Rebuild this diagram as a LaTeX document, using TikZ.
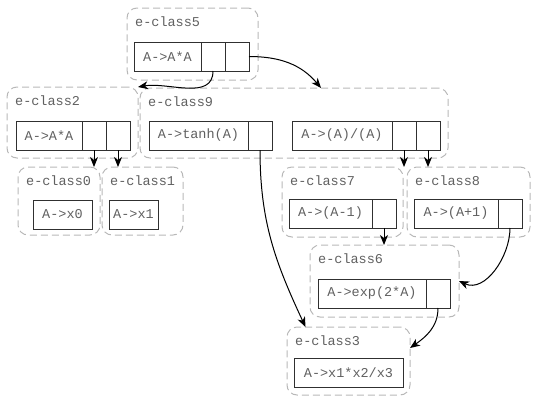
\documentclass[tikz,border=0pt]{standalone}
\usepackage{fontspec}
\setmonofont{Liberation Mono}
\usetikzlibrary{arrows.meta, positioning}
\definecolor{txtgray}{HTML}{606060}
\definecolor{clgray}{HTML}{B8B8B8}
\definecolor{recline}{HTML}{303030}
\tikzset{
  eclass/.style={draw=clgray, line width=1pt, dash pattern=on 7pt off 4pt, rounded corners=10pt, anchor=north west, outer sep=0pt},
  lbl/.style={anchor=west, inner sep=0pt, text=txtgray, font=\ttfamily\fontsize{13.5}{16}\selectfont},
  rec/.style={draw=recline, line width=1pt, anchor=north west, minimum height=29pt, inner sep=0pt, outer sep=0pt, text=txtgray, font=\ttfamily\fontsize{13.5}{16}\selectfont},
  cell/.style={draw=recline, line width=1pt, minimum width=24pt, minimum height=29pt, inner sep=0pt, outer sep=0pt},
  link/.style={->, draw=black, line width=1pt}
}

\begin{document}
\begin{tikzpicture}[x=1pt, y=-1pt, >={Stealth[length=10pt, width=8pt, inset=3pt]}]
    \useasboundingbox (0,0) rectangle (538,405);
    % e-classes
    \node [eclass, minimum width=131pt, minimum height=72pt] (c5) at (127,8) {};
    \node [eclass, minimum width=131pt, minimum height=71pt] (c2) at (7,87) {};
    \node [eclass, minimum width=308pt, minimum height=70pt] (c9) at (140,88) {};
    \node [eclass, minimum width=82pt, minimum height=68pt] (c0) at (18,167) {};
    \node [eclass, minimum width=81pt, minimum height=68pt] (c1) at (102,167) {};
    \node [eclass, minimum width=121pt, minimum height=70pt] (c7) at (282,167) {};
    \node [eclass, minimum width=123pt, minimum height=70pt] (c8) at (407,167) {};
    \node [eclass, minimum width=149pt, minimum height=72pt] (c6) at (310,245) {};
    \node [eclass, minimum width=123pt, minimum height=68pt] (c3) at (287,327) {};
    \foreach \c/\t in {c5/e-class5, c2/e-class2, c9/e-class9, c0/e-class0, c1/e-class1,
                       c7/e-class7, c8/e-class8, c6/e-class6, c3/e-class3}
      \node [lbl] (\c lbl) at ([xshift=8pt, yshift=-14pt]\c.north west) {\t};
    % enodes
    \node [rec, minimum width=67pt] (r5) at (134,42) {A->A*A};
    \node [cell, right=0pt of r5] (r5a) {};
    \node [cell, right=0pt of r5a] (r5b) {};
    \node [rec, minimum width=66pt] (r2) at (16,121) {A->A*A};
    \node [cell, right=0pt of r2] (r2a) {};
    \node [cell, right=0pt of r2a] (r2b) {};
    \node [rec, minimum width=99pt] (r9) at (149,121) {A->tanh(A)};
    \node [cell, right=0pt of r9] (r9a) {};
    \node [rec, minimum width=100pt] (r9d) at (292,121) {A->(A)/(A)};
    \node [cell, right=0pt of r9d] (r9da) {};
    \node [cell, right=0pt of r9da] (r9db) {};
    \node [rec, minimum width=59pt] (r0) at (33,200) {A->x0};
    \node [rec, minimum width=49pt] (r1) at (109,200) {A->x1};
    \node [rec, minimum width=83pt] (r7) at (289,199) {A->(A-1)};
    \node [cell, right=0pt of r7] (r7a) {};
    \node [rec, minimum width=84pt] (r8) at (414,199) {A->(A+1)};
    \node [cell, right=0pt of r8] (r8a) {};
    \node [rec, minimum width=108pt] (r6) at (318,279) {A->exp(2*A)};
    \node [cell, right=0pt of r6] (r6a) {};
    \node [rec, minimum width=109pt] (r3) at (294,358) {A->x1*x2/x3};
    % edges
    \draw [link] (r5a.south) to[out=-90, in=10] (c2.north east);
    \draw [link] (r5b.east) to[out=0, in=130] ([xshift=27pt]c9.north);
    \draw [link] (r2a.south) -- (r2a.south |- c0.north);
    \draw [link] (r2b.south) -- (r2b.south |- c1.north);
    \draw [link] (r9a.south) to[out=-90, in=115] ([xshift=-43pt]c3.north);
    \draw [link] (r9da.south) -- (r9da.south |- c7.north);
    \draw [link] (r9db.south) -- (r9db.south |- c8.north);
    \draw [link] (r7a.south) -- (r7a.south |- c6.north);
    \draw [link] (r8a.south) to[out=-90, in=-25] (c6.east);
    \draw [link] (r6a.south) to[out=-90, in=35] ([yshift=13pt]c3.east);
\end{tikzpicture}
\end{document}
